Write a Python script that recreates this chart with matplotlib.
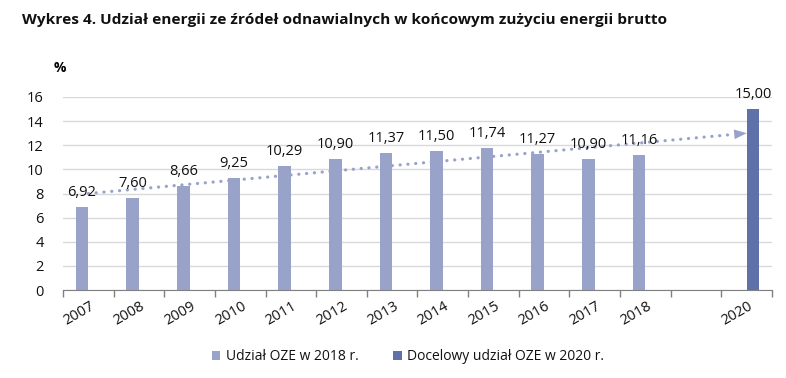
import matplotlib
matplotlib.use("Agg")
import matplotlib.pyplot as plt
import numpy as np

categories = ["2007", "2008", "2009", "2010", "2011", "2012", "2013", "2014",
              "2015", "2016", "2017", "2018", "", "2020"]
oze_2018 = [6.92, 7.60, 8.66, 9.25, 10.29, 10.90, 11.37, 11.50, 11.74, 11.27,
            10.90, 11.16, None, None]
target_2020 = [None] * 13 + [15.00]
trend_start, trend_end = 8.0, 13.0
yticks = [0, 2, 4, 6, 8, 10, 12, 14, 16]

light = "#99a3c9"
dark = "#6070a8"
font = "Open Sans"
plt.rcParams['font.family'] = [font, 'DejaVu Sans']

fig = plt.figure(figsize=(7.86, 3.78), dpi=100)
ax = fig.add_axes([63/786, 1 - 290/378, (772 - 63)/786, (290 - 97)/378])

x = np.arange(len(categories))
w = 0.25
xs1 = [i for i, v in enumerate(oze_2018) if v is not None]
v1 = [oze_2018[i] for i in xs1]
xs2 = [i for i, v in enumerate(target_2020) if v is not None]
v2 = [target_2020[i] for i in xs2]

b1 = ax.bar(np.array(xs1) - w/2, v1, width=w, color=light, zorder=3,
            label="Udział OZE w 2018 r.")
b2 = ax.bar(np.array(xs2) + w/2, v2, width=w, color=dark, zorder=3,
            label="Docelowy udział OZE w 2020 r.")

for xi, v in zip(np.array(xs1) - w/2, v1):
    ax.annotate(f"{v:.2f}".replace(".", ","), (xi, v), xytext=(0, 5),
                textcoords="offset points", ha="center", va="bottom",
                fontsize=10.5, color="#111111", zorder=5)
for xi, v in zip(np.array(xs2) + w/2, v2):
    ax.annotate(f"{v:.2f}".replace(".", ","), (xi, v), xytext=(0, 5),
                textcoords="offset points", ha="center", va="bottom",
                fontsize=10.5, color="#111111", zorder=5)

# trend line (dotted with arrow)
def trend(xv):
    return trend_start + (trend_end - trend_start) * xv / 13

ax.plot([0, 12.72], [trend(0), trend(12.72)],
        linestyle=(0, (0.05, 2.4)), color=light, lw=2.3,
        dash_capstyle="round", solid_capstyle="round", zorder=4)
ax.annotate("", xy=(13, trend(13)), xytext=(12.72, trend(12.72)),
            arrowprops=dict(arrowstyle="-|>,head_length=0.9,head_width=0.35",
                            color=light, lw=0, shrinkA=0, shrinkB=0), zorder=4)

ax.set_xlim(-0.5, len(categories) - 0.5)
ax.set_ylim(0, 16)
ax.set_yticks(yticks)
ax.set_yticklabels([str(t) for t in yticks], fontsize=10.5, color="#111111")
ax.yaxis.grid(True, color="#d9d9d9", lw=1, zorder=0)
ax.tick_params(axis="y", length=0, pad=14)

# labels placed slightly right of the category centre (major ticks invisible)
ax.set_xticks(x + 0.17)
ax.set_xticklabels(categories, rotation=30, fontsize=10.5, ha="right",
                   color="#111111")
ax.set_xticks(np.arange(-0.5, len(categories)), minor=True)
ax.tick_params(axis="x", which="major", length=0, pad=6)
ax.tick_params(axis="x", which="minor", length=5, color="#808080", width=1)

for s in ["top", "right", "left"]:
    ax.spines[s].set_visible(False)
ax.spines["bottom"].set_color("#808080")
ax.spines["bottom"].set_zorder(6)

fig.text(22/786, 1 - 20/378, "Wykres 4. Udział energii ze źródeł odnawialnych w końcowym zużyciu energii brutto",
         fontsize=11.1, fontweight="bold", va="center", ha="left", color="#111111")
fig.text(60/786, 1 - 68/378, "%", fontsize=10, fontweight="bold", va="center", ha="center")

fig.legend(handles=[b1, b2], loc="center", bbox_to_anchor=(0.519, 1 - 357/378),
           ncol=2, frameon=False, fontsize=10, handlelength=0.6, handleheight=0.6,
           columnspacing=2.5, handletextpad=0.4, labelcolor="#111111")

fig.savefig("out.png", dpi=100)
